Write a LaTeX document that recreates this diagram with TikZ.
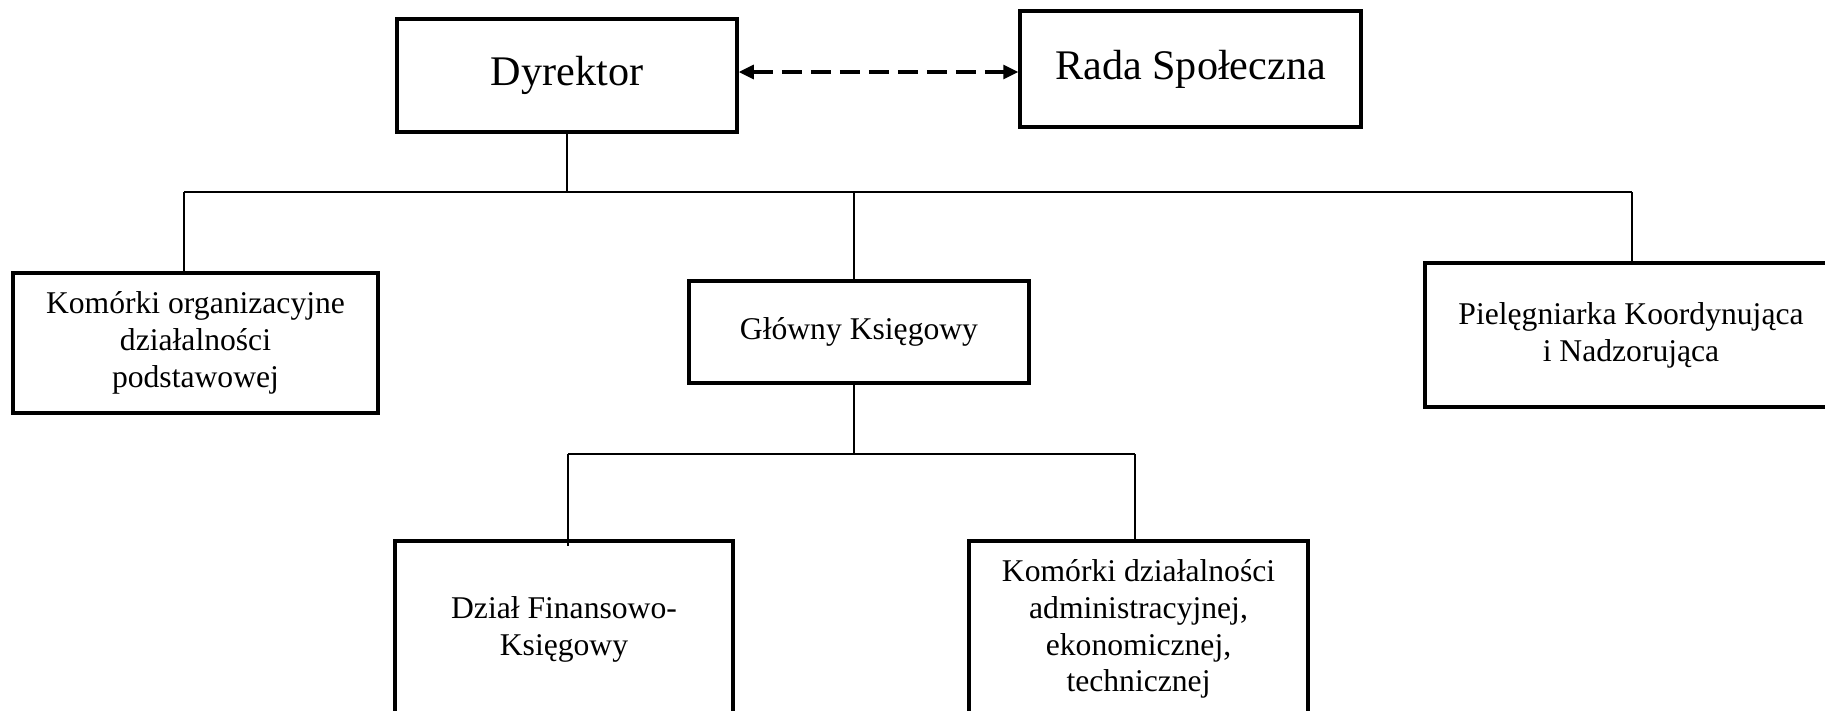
\documentclass[tikz,border=0pt]{standalone}
\usepackage{fontspec}
\setmainfont{Liberation Serif}
\usepackage{tikz}
\usetikzlibrary{arrows.meta}

\tikzset{
  unit/.style={rectangle, draw=black, line width=1pt, align=center, inner sep=0pt},
  bigunit/.style={unit, font=\fontsize{12}{14}\selectfont},
  smallunit/.style={unit, font=\fontsize{9}{10.5}\selectfont},
  link/.style={line width=0.5pt},
  relation/.style={line width=0.9pt, dash pattern=on 0.2cm off 0.09cm,
    {Triangle[length=0.15cm,width=0.14cm]}-{Triangle[length=0.15cm,width=0.14cm]}}
}

\begin{document}
\begin{tikzpicture}

\useasboundingbox (0,0) rectangle (18.25,-7.10);
\clip (0,0) rectangle (18.25,-7.10);

\node[bigunit, minimum width=3.40cm, minimum height=1.13cm] (dyrektor) at (5.67,-0.755) {Dyrektor};
\node[bigunit, minimum width=3.41cm, minimum height=1.16cm] (rada) at (11.905,-0.69) {Rada Społeczna};
\node[smallunit, minimum width=3.65cm, minimum height=1.40cm] (podstawowe) at (1.955,-3.43) {Komórki organizacyjne\\działalności\\podstawowej};
\node[smallunit, minimum width=3.40cm, minimum height=1.02cm] (ksiegowy) at (8.59,-3.32) {Główny Księgowy};
\node[smallunit, minimum width=4.12cm, minimum height=1.44cm] (pielegniarka) at (16.31,-3.35) {Pielęgniarka Koordynująca\\i Nadzorująca};
\node[smallunit, minimum width=3.38cm, minimum height=1.76cm] (finanse) at (5.64,-6.29) {Dział Finansowo-\\Księgowy};
\node[smallunit, minimum width=3.39cm, minimum height=1.76cm] (administracja) at (11.385,-6.29) {Komórki działalności\\administracyjnej,\\ekonomicznej,\\technicznej};

\coordinate (busA) at (5.64,-1.92);
\coordinate (busAleft) at (1.84,-1.92);
\coordinate (busAmid) at (8.54,-1.92);
\coordinate (busAright) at (16.32,-1.92);
\coordinate (busB) at (8.54,-4.54);
\coordinate (busBleft) at (5.68,-4.54);
\coordinate (busBright) at (11.35,-4.54);

\draw[relation] ([yshift=0.035cm]dyrektor.east) -- ([yshift=0.035cm]dyrektor.east -| rada.west);

\draw[link] (dyrektor.south) -- (dyrektor.south |- busA);
\draw[link] (busAleft) -- (busAright);
\draw[link] (busAleft) -- (busAleft |- podstawowe.north);
\draw[link] (busAmid) -- (busAmid |- ksiegowy.north);
\draw[link] (busAright) -- (busAright |- pielegniarka.north);
\draw[link] (busB |- ksiegowy.south) -- (busB);
\draw[link] (busBleft) -- (busBright);
\draw[link] (busBleft) -- ([yshift=-0.07cm]busBleft |- finanse.north);
\draw[link] (busBright) -- (busBright |- administracja.north);
\end{tikzpicture}
\end{document}
